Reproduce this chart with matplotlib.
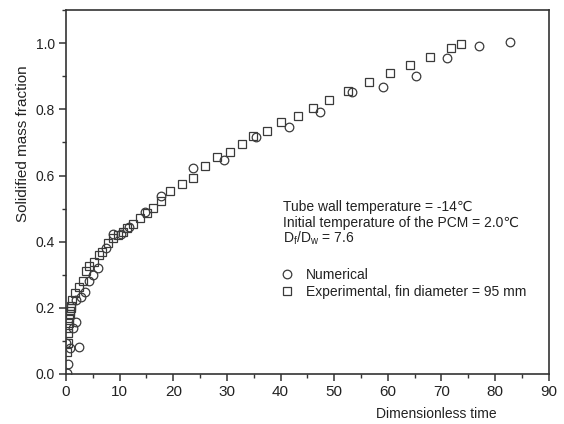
import matplotlib
matplotlib.use("Agg")
import matplotlib.pyplot as plt
from matplotlib.ticker import MultipleLocator, FormatStrFormatter

plt.rcParams["font.family"] = ["Liberation Sans", "DejaVu Sans"]
plt.rcParams["mathtext.default"] = "regular"

# ---- data ----
num_t = [0.1, 0.4, 0.0, 0.8, 2.4, 1.4, 1.8, 1.9, 2.8, 3.6, 4.3, 5.1, 6.0,
         7.5, 8.8, 10.3, 11.8, 14.8, 17.8, 23.7, 29.5, 35.5, 41.5, 47.3,
         53.3, 59.1, 65.2, 71.0, 77.0, 82.8]
num_f = [0.003, 0.03, 0.095, 0.078, 0.083, 0.138, 0.158, 0.225, 0.232,
         0.247, 0.28, 0.30, 0.32, 0.38, 0.424, 0.424, 0.443, 0.491, 0.539,
         0.624, 0.648, 0.718, 0.746, 0.791, 0.852, 0.867, 0.900, 0.954,
         0.991, 1.003]

exp_t = [0.2, 0.3, 0.3, 0.4, 0.5, 0.6, 0.7, 0.8, 0.9, 1.0, 1.2, 1.7, 2.4,
         3.2, 3.7, 4.3, 5.2, 6.2, 6.7, 7.9, 8.8, 9.7, 10.7, 11.4, 12.5,
         13.8, 15.1, 16.3, 17.8, 19.4, 21.7, 23.7, 26.0, 28.1, 30.5, 32.8,
         34.9, 37.4, 40.0, 43.2, 46.1, 49.0, 52.5, 56.5, 60.4, 64.1, 67.9,
         71.8, 73.6]
exp_f = [0.067, 0.094, 0.124, 0.139, 0.155, 0.17, 0.182, 0.19, 0.20, 0.205,
         0.224, 0.245, 0.264, 0.282, 0.312, 0.327, 0.34, 0.36, 0.37, 0.397,
         0.412, 0.42, 0.43, 0.44, 0.452, 0.473, 0.488, 0.503, 0.522, 0.552,
         0.573, 0.594, 0.628, 0.656, 0.671, 0.695, 0.719, 0.735, 0.761,
         0.781, 0.805, 0.828, 0.856, 0.883, 0.909, 0.933, 0.958, 0.985,
         0.997]

info_lines = [
    "Tube wall temperature = -14\u2103",
    "Initial temperature of the PCM = 2.0\u2103",
    "D$_f$/D$_w$ = 7.6",
]

# ---- figure ----
fig = plt.figure(figsize=(5.64, 4.24), dpi=100)
ax = fig.add_axes([0.117, 0.118, 0.856, 0.858])

edge = "#3a3a3a"
txt = "#222222"
ax.plot(num_t, num_f, "o", ms=6.2, mfc="none", mec=edge, mew=0.9,
        label="Numerical", zorder=3)
ax.plot(exp_t, exp_f, "s", ms=5.2, mfc="none", mec=edge, mew=0.9,
        label="Experimental, fin diameter = 95 mm", zorder=3)

ax.set_xlim(0, 90)
ax.set_ylim(0, 1.1)
ax.xaxis.set_major_locator(MultipleLocator(10))
ax.xaxis.set_minor_locator(MultipleLocator(5))
ax.yaxis.set_major_locator(MultipleLocator(0.2))
ax.yaxis.set_minor_locator(MultipleLocator(0.1))
ax.yaxis.set_major_formatter(FormatStrFormatter("%.1f"))

for s in ax.spines.values():
    s.set_linewidth(1.2)
    s.set_color("#333333")
ax.tick_params(which="major", direction="out", length=5, width=1.1,
               color="#333333", labelcolor=txt, pad=3)
ax.tick_params(axis="x", which="major", labelsize=11)
ax.tick_params(axis="y", which="major", labelsize=10)
ax.tick_params(which="minor", direction="out", length=3, width=1.0,
               color="#333333")

ax.set_xlabel("Dimensionless time", fontsize=10, color=txt)
ax.xaxis.set_label_coords(0.768, -0.092)
ax.set_ylabel("Solidified mass fraction", fontsize=11, color=txt)
ax.yaxis.set_label_coords(-0.074, 0.633)

for i, line in enumerate(info_lines):
    ax.text(0.449, 0.459 - i * 0.043, line, transform=ax.transAxes,
            fontsize=10, color=txt, va="center", ha="left")

ax.legend(loc="upper left", bbox_to_anchor=(0.43, 0.307), frameon=False,
          fontsize=10, handletextpad=0.75, labelspacing=0.25,
          handlelength=1.2, borderaxespad=0, labelcolor=txt)

fig.savefig("out.png", dpi=100)
